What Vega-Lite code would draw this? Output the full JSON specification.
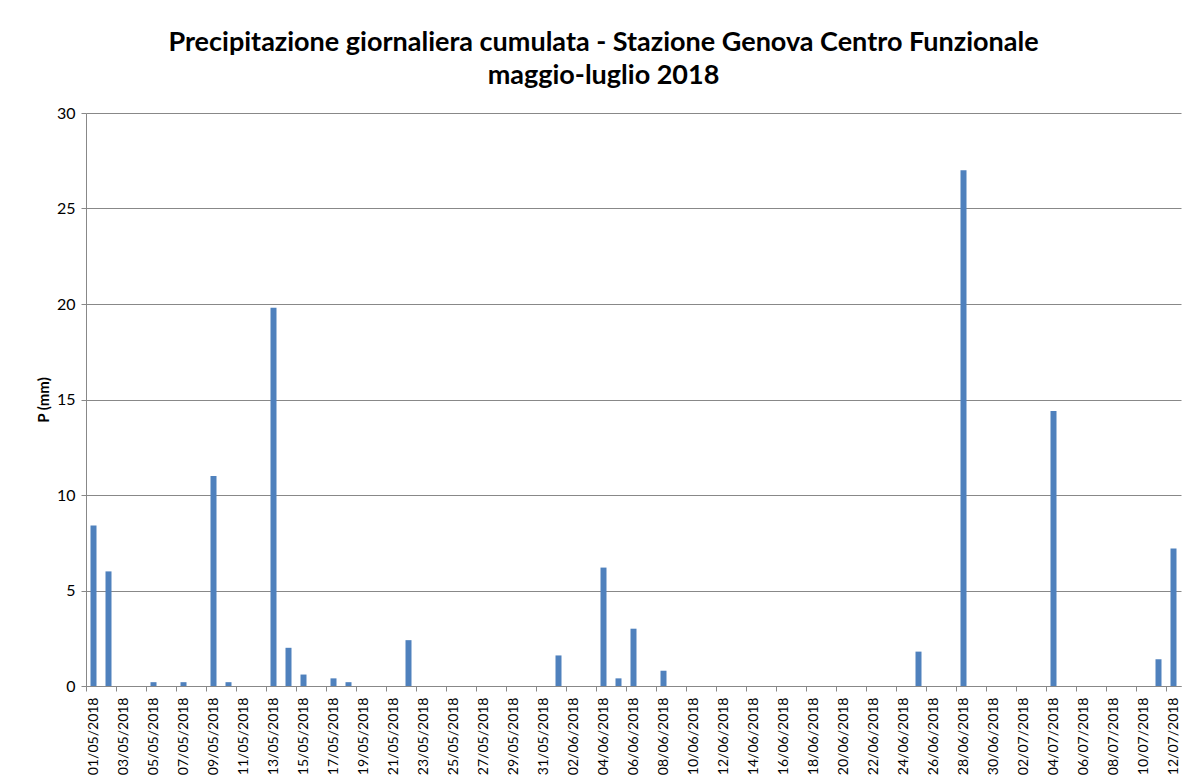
{
  "$schema": "https://vega.github.io/schema/vega-lite/v6.json",
  "autosize": {"type": "none"},
  "padding": {"left": 86, "top": 113, "right": 17, "bottom": 94},
  "width": 1095,
  "height": 573,
  "background": "white",
  "title": {
    "text": ["Precipitazione giornaliera cumulata - Stazione Genova Centro Funzionale", "maggio-luglio 2018"],
    "font": "Lato",
    "fontSize": 27,
    "fontWeight": "bold",
    "lineHeight": 33,
    "color": "#000000",
    "anchor": "middle",
    "dx": -30,
    "offset": 15
  },
  "data": {
    "values": [
      {"data": "01/05/2018", "p": 8.4}, {"data": "02/05/2018", "p": 6.0}, {"data": "03/05/2018", "p": 0}, {"data": "04/05/2018", "p": 0},
      {"data": "05/05/2018", "p": 0.2}, {"data": "06/05/2018", "p": 0}, {"data": "07/05/2018", "p": 0.2}, {"data": "08/05/2018", "p": 0},
      {"data": "09/05/2018", "p": 11.0}, {"data": "10/05/2018", "p": 0.2}, {"data": "11/05/2018", "p": 0}, {"data": "12/05/2018", "p": 0},
      {"data": "13/05/2018", "p": 19.8}, {"data": "14/05/2018", "p": 2.0}, {"data": "15/05/2018", "p": 0.6}, {"data": "16/05/2018", "p": 0},
      {"data": "17/05/2018", "p": 0.4}, {"data": "18/05/2018", "p": 0.2}, {"data": "19/05/2018", "p": 0}, {"data": "20/05/2018", "p": 0},
      {"data": "21/05/2018", "p": 0}, {"data": "22/05/2018", "p": 2.4}, {"data": "23/05/2018", "p": 0}, {"data": "24/05/2018", "p": 0},
      {"data": "25/05/2018", "p": 0}, {"data": "26/05/2018", "p": 0}, {"data": "27/05/2018", "p": 0}, {"data": "28/05/2018", "p": 0},
      {"data": "29/05/2018", "p": 0}, {"data": "30/05/2018", "p": 0}, {"data": "31/05/2018", "p": 0},
      {"data": "01/06/2018", "p": 1.6}, {"data": "02/06/2018", "p": 0}, {"data": "03/06/2018", "p": 0}, {"data": "04/06/2018", "p": 6.2},
      {"data": "05/06/2018", "p": 0.4}, {"data": "06/06/2018", "p": 3.0}, {"data": "07/06/2018", "p": 0}, {"data": "08/06/2018", "p": 0.8},
      {"data": "09/06/2018", "p": 0}, {"data": "10/06/2018", "p": 0}, {"data": "11/06/2018", "p": 0}, {"data": "12/06/2018", "p": 0},
      {"data": "13/06/2018", "p": 0}, {"data": "14/06/2018", "p": 0}, {"data": "15/06/2018", "p": 0}, {"data": "16/06/2018", "p": 0},
      {"data": "17/06/2018", "p": 0}, {"data": "18/06/2018", "p": 0}, {"data": "19/06/2018", "p": 0}, {"data": "20/06/2018", "p": 0},
      {"data": "21/06/2018", "p": 0}, {"data": "22/06/2018", "p": 0}, {"data": "23/06/2018", "p": 0}, {"data": "24/06/2018", "p": 0},
      {"data": "25/06/2018", "p": 1.8}, {"data": "26/06/2018", "p": 0}, {"data": "27/06/2018", "p": 0}, {"data": "28/06/2018", "p": 27.0},
      {"data": "29/06/2018", "p": 0}, {"data": "30/06/2018", "p": 0},
      {"data": "01/07/2018", "p": 0}, {"data": "02/07/2018", "p": 0}, {"data": "03/07/2018", "p": 0}, {"data": "04/07/2018", "p": 14.4},
      {"data": "05/07/2018", "p": 0}, {"data": "06/07/2018", "p": 0}, {"data": "07/07/2018", "p": 0}, {"data": "08/07/2018", "p": 0},
      {"data": "09/07/2018", "p": 0}, {"data": "10/07/2018", "p": 0}, {"data": "11/07/2018", "p": 1.4}, {"data": "12/07/2018", "p": 7.2}
    ]
  },
  "mark": {"type": "bar", "color": "#4F81BD", "width": {"band": 0.4}},
  "encoding": {
    "x": {
      "field": "data",
      "type": "nominal",
      "sort": null,
      "scale": {"paddingInner": 0, "paddingOuter": 0},
      "axis": {
        "title": null,
        "values": ["01/05/2018", "03/05/2018", "05/05/2018", "07/05/2018", "09/05/2018", "11/05/2018", "13/05/2018", "15/05/2018", "17/05/2018", "19/05/2018", "21/05/2018", "23/05/2018", "25/05/2018", "27/05/2018", "29/05/2018", "31/05/2018", "02/06/2018", "04/06/2018", "06/06/2018", "08/06/2018", "10/06/2018", "12/06/2018", "14/06/2018", "16/06/2018", "18/06/2018", "20/06/2018", "22/06/2018", "24/06/2018", "26/06/2018", "28/06/2018", "30/06/2018", "02/07/2018", "04/07/2018", "06/07/2018", "08/07/2018", "10/07/2018", "12/07/2018"],
        "labelAngle": -90,
        "labelAlign": "right",
        "labelBaseline": "middle",
        "labelFont": "Lato",
        "labelFontSize": 14,
        "labelColor": "#000000",
        "labelPadding": 6,
        "bandPosition": 0,
        "tickSize": 5,
        "tickColor": "#888888",
        "domainColor": "#888888",
        "labelOverlap": false
      }
    },
    "y": {
      "field": "p",
      "type": "quantitative",
      "scale": {"domain": [0, 30], "nice": false},
      "axis": {
        "title": "P (mm)",
        "titleFont": "Lato",
        "titleFontSize": 15,
        "titleFontWeight": "bold",
        "titleColor": "#000000",
        "titlePadding": 5,
        "values": [0, 5, 10, 15, 20, 25, 30],
        "labelFont": "Lato",
        "labelFontSize": 16,
        "labelColor": "#000000",
        "labelPadding": 6,
        "tickSize": 5,
        "tickColor": "#888888",
        "domainColor": "#888888",
        "gridColor": "#888888",
        "grid": true
      }
    }
  },
  "config": {
    "view": {"stroke": null},
    "axis": {"domainWidth": 1, "gridWidth": 1}
  }
}
